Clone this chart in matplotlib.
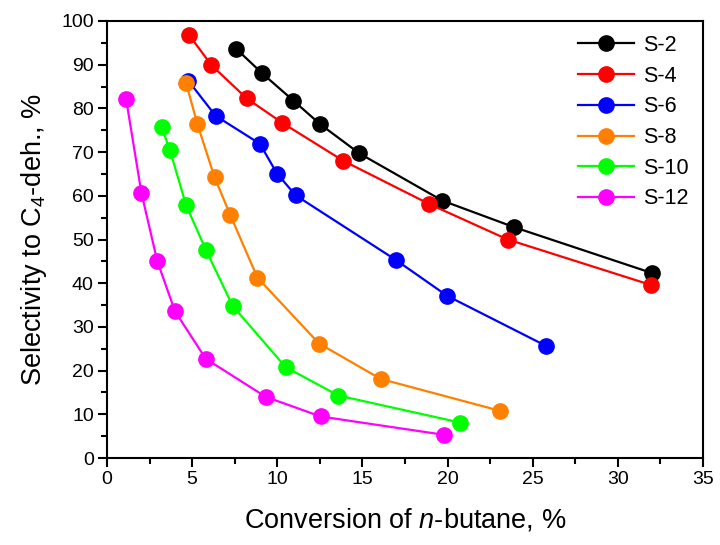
import matplotlib.pyplot as plt
import numpy as np

plt.rcParams['font.family'] = ['Liberation Sans', 'DejaVu Sans']
plt.rcParams['mathtext.fontset'] = 'custom'
plt.rcParams['mathtext.rm'] = 'Liberation Sans'
plt.rcParams['mathtext.it'] = 'Liberation Sans:italic'

# conversion (x) and selectivity (y) for each sample
x_s2 = [7.57, 9.12, 10.94, 12.51, 14.82, 19.69, 23.92, 32.02]
y_s2 = [93.7, 88.0, 81.8, 76.4, 69.7, 58.9, 52.8, 42.3]
x_s4 = [4.82, 6.13, 8.20, 10.29, 13.88, 18.93, 23.53, 31.94]
y_s4 = [96.8, 89.9, 82.3, 76.7, 68.0, 58.1, 50.0, 39.6]
x_s6 = [4.78, 6.38, 8.98, 9.98, 11.08, 16.97, 19.98, 25.76]
y_s6 = [86.3, 78.3, 71.9, 65.1, 60.1, 45.3, 37.1, 25.7]
x_s8 = [4.64, 5.30, 6.32, 7.24, 8.83, 12.45, 16.07, 23.08]
y_s8 = [85.9, 76.5, 64.2, 55.6, 41.3, 26.2, 18.1, 10.8]
x_s10 = [3.21, 3.70, 4.64, 5.81, 7.38, 10.49, 13.58, 20.75]
y_s10 = [75.7, 70.4, 57.9, 47.6, 34.8, 20.8, 14.3, 8.1]
x_s12 = [1.12, 2.02, 2.95, 3.99, 5.80, 9.32, 12.55, 19.81]
y_s12 = [82.2, 60.7, 45.1, 33.6, 22.7, 14.0, 9.5, 5.3]

series = [("S-2", x_s2, y_s2, "black"),
          ("S-4", x_s4, y_s4, "#ff0000"),
          ("S-6", x_s6, y_s6, "#0000ff"),
          ("S-8", x_s8, y_s8, "#ff8000"),
          ("S-10", x_s10, y_s10, "#00ff00"),
          ("S-12", x_s12, y_s12, "#ff00ff")]

fig = plt.figure(figsize=(7.2, 5.45), dpi=100)
ax = fig.add_axes([0.1486, 0.1596, 0.8278, 0.8019])

for name, xs, ys, c in series:
    ax.plot(xs, ys, '-o', color=c, lw=1.6, markersize=11, label=name)

ax.set_xlim(0, 35)
ax.set_ylim(0, 100)
ax.set_xticks(np.arange(0, 36, 5))
ax.set_xticks(np.arange(0, 35.1, 2.5), minor=True)
ax.set_yticks(np.arange(0, 101, 10))
ax.set_yticks(np.arange(0, 101, 5), minor=True)
ax.tick_params(which='major', direction='out', length=6.5, width=1.5, labelsize=14, pad=3)
ax.tick_params(which='minor', direction='out', length=4, width=1.5)
for sp in ax.spines.values():
    sp.set_linewidth(1.5)

ax.set_xlabel(r'Conversion of $\it{n}$-butane, %', fontsize=19.5, labelpad=13)
ax.set_ylabel(r'Selectivity to C$_4$-deh., %', fontsize=19.5, labelpad=9)

ax.legend(loc='upper right', frameon=False, fontsize=15.5, handlelength=2.6,
          labelspacing=0.45, borderaxespad=0.25, handletextpad=0.45)

plt.savefig("out.png", dpi=100)
